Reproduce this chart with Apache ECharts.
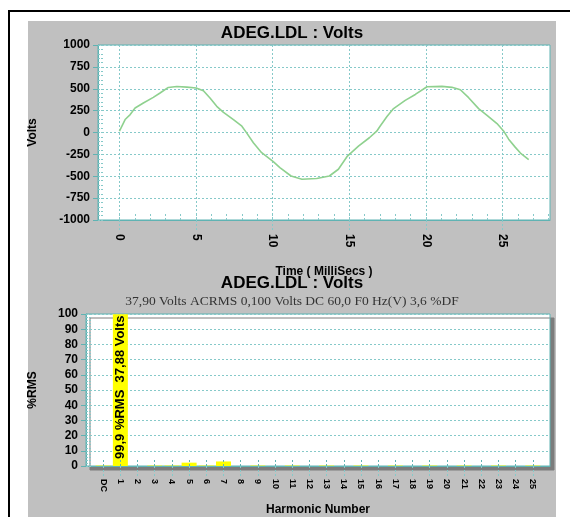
<!DOCTYPE html>
<html>
<head>
<meta charset="utf-8">
<script src="https://cdn.jsdelivr.net/npm/echarts@6/dist/echarts.min.js"></script>
<style>
  html, body { margin: 0; padding: 0; background: #ffffff; }
  #chart { width: 570px; height: 517px; }
</style>
</head>
<body>
<div id="chart"></div>
<script>
// Captured voltage waveform: time in milliseconds and instantaneous volts
const waveTime = [0, 0.37, 0.7, 1.02, 1.56, 2.21, 2.65, 3.19, 3.74, 4.4, 5.0, 5.48, 5.91, 6.35, 6.79,
  7.44, 7.99, 8.3, 8.74, 9.28, 10.04, 10.47, 11.2, 11.91, 12.87, 13.7, 14.29, 14.88, 15.6, 16.31,
  16.79, 17.02, 17.46, 17.89, 18.65, 19.31, 20.07, 21.05, 21.7, 22.25, 22.79, 23.44, 23.99, 24.64,
  25.07, 25.4, 25.84, 26.17, 26.71];
const waveVolts = [15, 148, 205, 280, 337, 401, 451, 515, 526, 519, 508, 477, 394, 299, 231,
  148, 72, -4, -117, -231, -333, -401, -497, -534, -526, -497, -420, -269, -156, -60,
  15, 75, 182, 273, 367, 435, 523, 527, 516, 489, 398, 273, 197, 102,
  18, -76, -170, -235, -310];

// Harmonic spectrum, percent of RMS per harmonic
const harmonicLabels = ['DC', '1', '2', '3', '4', '5', '6', '7', '8', '9', '10', '11', '12', '13',
  '14', '15', '16', '17', '18', '19', '20', '21', '22', '23', '24', '25'];
const harmonicPct = [0.3, 99.9, 0, 0.3, 0.3, 2.2, 0.3, 3.0, 0, 0.3, 0, 0.3, 0, 0.3,
  0, 0.3, 0, 0.3, 0, 0.3, 0, 0.3, 0, 0.3, 0, 0.3];
const fundamentalVolts = 37.88;

// Tick values
const timeTicks = [0, 5, 10, 15, 20, 25];
const timeMinorTicks = [0, 1, 2, 3, 4, 5, 6, 7, 8, 9, 10, 11, 12, 13, 14, 15, 16, 17, 18, 19, 20,
  21, 22, 23, 24, 25, 26, 27, 28];

// Texts
const panelTitle = 'ADEG.LDL : Volts';
const summaryText = '37,90 Volts ACRMS 0,100 Volts DC 60,0 F0 Hz(V) 3,6 %DF';

const TEAL = '#5fb3b3';
const TEAL_LIGHT = '#86c9c9';
const GRAY_PANEL = '#c0c0c0';

const boldLabel = { color: '#000', fontFamily: 'Arial, "Liberation Sans", sans-serif', fontWeight: 'bold', fontSize: 12 };
const commaNum = (v, d) => v.toFixed(d).replace('.', ',');
const range = (a, b, s) => { const r = []; for (let v = a; v <= b + 1e-9; v += s) r.push(+v.toFixed(6)); return r; };
const plainNum = v => String(v);

const chart = echarts.init(document.getElementById('chart'), null, { renderer: 'canvas' });

const option = {
  animation: false,
  backgroundColor: '#ffffff',
  graphic: [
    { type: 'rect', z: -20, shape: { x: 9, y: 11, width: 700, height: 700 },
      style: { fill: '#ffffff', stroke: '#000000', lineWidth: 2 } },
    { type: 'rect', z: -10, shape: { x: 28, y: 21, width: 528, height: 500 },
      style: { fill: GRAY_PANEL } },
    { type: 'text', z: 10, x: 292, y: 33,
      style: { text: panelTitle, textAlign: 'center', textVerticalAlign: 'middle',
        font: 'bold 17px Arial, "Liberation Sans", sans-serif', fill: '#000' } },
    { type: 'text', z: 10, x: 292, y: 283,
      style: { text: panelTitle, textAlign: 'center', textVerticalAlign: 'middle',
        font: 'bold 17px Arial, "Liberation Sans", sans-serif', fill: '#000' } },
    { type: 'text', z: 10, x: 292, y: 301,
      style: { text: summaryText, textAlign: 'center', textVerticalAlign: 'middle',
        font: '13.5px "Liberation Serif", "Times New Roman", serif', fill: '#333' } }
  ],
  grid: [
    { left: 98, top: 45, right: 20, height: 175, show: true, backgroundColor: '#ffffff',
      borderColor: TEAL, borderWidth: 1 },
    { left: 86, top: 314, right: 20, height: 167, show: true, backgroundColor: '#ffffff',
      borderColor: TEAL, borderWidth: 1, shadowColor: '#7c7c7c', shadowBlur: 0,
      shadowOffsetX: 4, shadowOffsetY: 4 }
  ],
  xAxis: [
    { // waveform time axis
      type: 'value', gridIndex: 0, position: 'bottom', min: -1.4, max: 28.1,
      name: 'Time ( MilliSecs )', nameLocation: 'middle', nameGap: 46,
      nameTextStyle: boldLabel,
      axisLine: { onZero: false, lineStyle: { color: TEAL } },
      axisTick: { customValues: timeTicks, length: 10, lineStyle: { color: TEAL_LIGHT, type: [2, 2] } },
      axisLabel: Object.assign({ customValues: timeTicks, rotate: -90, margin: 14, formatter: plainNum }, boldLabel),
      splitLine: { show: true, lineStyle: { color: TEAL_LIGHT, type: [2, 2] } }
    },
    { // one-millisecond minor ticks inside the waveform plot
      type: 'value', gridIndex: 0, position: 'bottom', min: -1.4, max: 28.1,
      axisLine: { show: false, onZero: false },
      axisTick: { customValues: timeMinorTicks, inside: true, length: 8,
        lineStyle: { color: TEAL_LIGHT, type: [2, 2] } },
      axisLabel: { show: false }, splitLine: { show: false }
    },
    { // harmonic number axis
      type: 'value', gridIndex: 1, position: 'bottom', min: -1, max: 26,
      name: 'Harmonic Number', nameLocation: 'middle', nameGap: 38,
      nameTextStyle: boldLabel,
      axisLine: { onZero: false, lineStyle: { color: TEAL } },
      axisTick: { customValues: range(0, 25, 1), length: 11, lineStyle: { color: TEAL_LIGHT, type: [2, 2] } },
      axisLabel: Object.assign({}, boldLabel, {
        customValues: range(0, 25, 1), rotate: -90, margin: 13, fontSize: 9,
        formatter: v => harmonicLabels[Math.round(v)] || ''
      }),
      splitLine: { show: false }
    },
    { // short harmonic markers inside the spectrum plot
      type: 'value', gridIndex: 1, position: 'bottom', min: -1, max: 26, z: 5,
      axisLine: { show: false, onZero: false },
      axisTick: { customValues: range(0, 25, 1), inside: true, length: 8,
        lineStyle: { color: TEAL, type: [2, 2] } },
      axisLabel: { show: false }, splitLine: { show: false }
    }
  ],
  yAxis: [
    { // volts
      type: 'value', gridIndex: 0, position: 'left', min: -1000, max: 1000, interval: 250,
      name: 'Volts', nameLocation: 'middle', nameGap: 59, nameRotate: 90,
      nameTextStyle: boldLabel,
      axisLine: { show: true, onZero: false, lineStyle: { color: TEAL } },
      axisTick: { show: true, length: 5, lineStyle: { color: TEAL } },
      axisLabel: Object.assign({ margin: 8, formatter: plainNum }, boldLabel),
      splitLine: { show: true, lineStyle: { color: TEAL_LIGHT, type: [2, 2] } }
    },
    { // volts minor ticks
      type: 'value', gridIndex: 0, position: 'left', min: -1000, max: 1000,
      axisLine: { show: false, onZero: false },
      axisTick: { customValues: range(-1000, 1000, 50), inside: true, length: 6,
        lineStyle: { color: TEAL_LIGHT, type: [2, 1] } },
      axisLabel: { show: false }, splitLine: { show: false }
    },
    { // percent RMS
      type: 'value', gridIndex: 1, position: 'left', min: 0, max: 100, interval: 10,
      name: '%RMS', nameLocation: 'middle', nameGap: 47, nameRotate: 90,
      nameTextStyle: boldLabel,
      axisLine: { show: true, onZero: false, lineStyle: { color: TEAL } },
      axisTick: { show: true, length: 5, lineStyle: { color: TEAL } },
      axisLabel: Object.assign({ margin: 8, formatter: plainNum }, boldLabel),
      splitLine: { show: true, lineStyle: { color: TEAL_LIGHT, type: [2, 2] } }
    },
    { // percent minor ticks
      type: 'value', gridIndex: 1, position: 'left', min: 0, max: 100,
      axisLine: { show: false, onZero: false },
      axisTick: { customValues: range(0, 100, 2), inside: true, length: 6,
        lineStyle: { color: TEAL_LIGHT, type: [2, 1] } },
      axisLabel: { show: false }, splitLine: { show: false }
    }
  ],
  series: [
    {
      type: 'line', name: 'Volts', xAxisIndex: 0, yAxisIndex: 0,
      data: waveTime.map((t, i) => [t, waveVolts[i]]),
      showSymbol: false, smooth: false,
      lineStyle: { color: '#8fd18f', width: 1.6 }
    },
    {
      type: 'bar', name: '%RMS', xAxisIndex: 2, yAxisIndex: 2,
      barWidth: 15,
      itemStyle: { color: '#ffff00' },
      data: harmonicPct.map((v, i) => {
        const item = { value: [i, v] };
        if (i === 1) {
          item.label = {
            show: true, position: 'insideBottom', rotate: 90, align: 'left', verticalAlign: 'middle',
            distance: 7, color: '#000', fontFamily: 'Arial, "Liberation Sans", sans-serif',
            fontWeight: 'bold', fontSize: 13,
            formatter: p => commaNum(p.value[1], 1) + ' %RMS  ' + commaNum(fundamentalVolts, 2) + ' Volts'
          };
        }
        return item;
      })
    }
  ]
};

chart.setOption(option);
</script>
</body>
</html>
